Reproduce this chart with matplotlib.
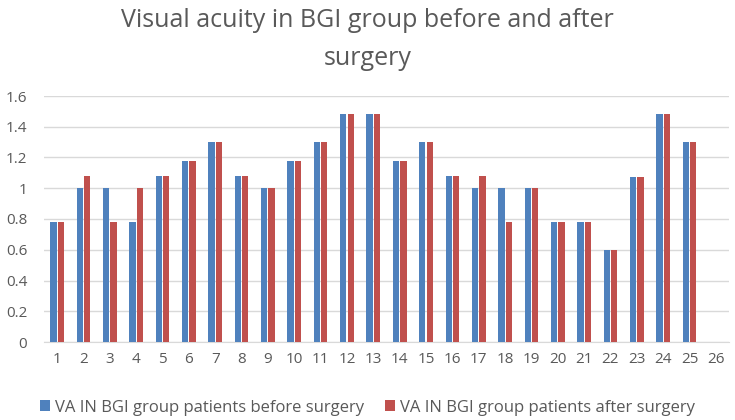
import matplotlib.pyplot as plt
import numpy as np

plt.rcParams['font.family'] = ['Open Sans', 'DejaVu Sans']

patients = [str(i) for i in range(1, 27)]
va_before = [0.78, 1.0, 1.0, 0.78, 1.08, 1.18, 1.3, 1.08, 1.0, 1.18, 1.3, 1.48, 1.48,
             1.18, 1.3, 1.08, 1.0, 1.0, 1.0, 0.78, 0.78, 0.6, 1.07, 1.48, 1.3, np.nan]
va_after = [0.78, 1.08, 0.78, 1.0, 1.08, 1.18, 1.3, 1.08, 1.0, 1.18, 1.3, 1.48, 1.48,
            1.18, 1.3, 1.08, 1.08, 0.78, 1.0, 0.78, 0.78, 0.6, 1.07, 1.48, 1.3, np.nan]

blue = '#4F81BD'
red = '#C0504D'
grey = '#595959'

fig = plt.figure(figsize=(7.35, 4.2), dpi=100)
ax = fig.add_axes([44 / 735, 78 / 420, 685 / 735, 246 / 420])

x = np.arange(len(patients))
w = 0.24
ax.bar(x - 0.14, va_before, w, color=blue, label='VA IN BGI group patients before surgery', zorder=3)
ax.bar(x + 0.14, va_after, w, color=red, label='VA IN BGI group patients after surgery', zorder=3)

ax.set_xlim(-0.5, len(patients) - 0.5)
ax.set_ylim(0, 1.6)
ax.set_yticks(np.arange(0, 1.61, 0.2))
ax.set_yticklabels(['0', '0.2', '0.4', '0.6', '0.8', '1', '1.2', '1.4', '1.6'])
ax.set_xticks(x)
ax.set_xticklabels(patients)
ax.tick_params(axis='both', length=0, labelsize=11, colors=grey)
ax.tick_params(axis='x', pad=7)
ax.tick_params(axis='y', pad=12)
ax.grid(axis='y', color='#D9D9D9', linewidth=1, zorder=0)
for s in ['top', 'right', 'left']:
    ax.spines[s].set_visible(False)
ax.spines['bottom'].set_color('#D9D9D9')

fig.text(0.5, 0.98, 'Visual acuity in BGI group before and after\nsurgery', ha='center', va='top',
         fontsize=18, color=grey, linespacing=1.65)

fig.legend(loc='lower center', bbox_to_anchor=(0.5, -0.025), ncol=2, frameon=False,
           fontsize=12, labelcolor=grey, handlelength=0.6, handleheight=0.6,
           handletextpad=0.3, columnspacing=1.2)

fig.savefig('out.png', dpi=100)
